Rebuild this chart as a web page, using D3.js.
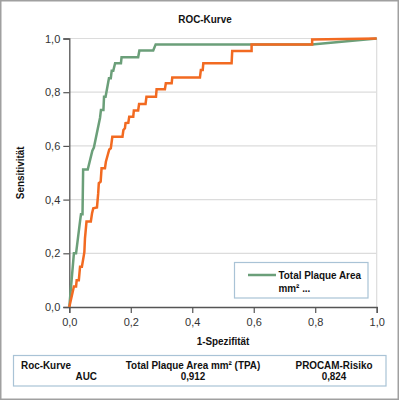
<!DOCTYPE html>
<html>
<head>
<meta charset="utf-8">
<script src="https://cdn.jsdelivr.net/npm/d3@7"></script>
<style>
  html, body { margin: 0; padding: 0; background: #fff; }
  svg { display: block; }
  .lab { font-family: "Liberation Sans", Arial, sans-serif; font-weight: bold; fill: #111; }
  .tick text { font-family: "Liberation Sans", Arial, sans-serif; font-size: 11px; fill: #333; }
</style>
</head>
<body>
<script>
// ---- data ----
const chartTitle = "ROC-Kurve";
const xLabel = "1-Spezifität";
const yLabel = "Sensitivität";
const tickValues = [0, 0.2, 0.4, 0.6, 0.8, 1.0];
const seriesNames = ["Total Plaque Area mm² (TPA)", "PROCAM-Risiko"];
const aucValues = ["0,912", "0,824"];

// Total Plaque Area (green): [1-Spezifität, Sensitivität]
const tpaFpr = [0, 0.015, 0.022, 0.035, 0.038, 0.043, 0.045, 0.060, 0.075, 0.080, 0.100, 0.103, 0.111, 0.113, 0.118, 0.129, 0.135, 0.138, 0.143, 0.149, 0.168, 0.170, 0.224, 0.228, 0.273, 0.281, 0.789, 1.0];
const tpaTpr = [0, 0.200, 0.200, 0.320, 0.345, 0.345, 0.512, 0.512, 0.582, 0.594, 0.705, 0.734, 0.734, 0.783, 0.783, 0.852, 0.852, 0.880, 0.880, 0.908, 0.908, 0.930, 0.930, 0.955, 0.955, 0.978, 0.978, 1.0];

// PROCAM-Risiko (orange)
const procamFpr = [0, 0.015, 0.022, 0.024, 0.031, 0.035, 0.041, 0.049, 0.051, 0.056, 0.070, 0.074, 0.078, 0.090, 0.094, 0.096, 0.102, 0.105, 0.116, 0.119, 0.125, 0.130, 0.135, 0.140, 0.173, 0.176, 0.181, 0.183, 0.192, 0.195, 0.208, 0.210, 0.224, 0.227, 0.248, 0.251, 0.282, 0.284, 0.311, 0.314, 0.333, 0.335, 0.425, 0.428, 0.434, 0.436, 0.528, 0.530, 0.593, 0.593, 0.790, 0.790, 1.0];
const procamTpr = [0, 0.076, 0.076, 0.100, 0.100, 0.150, 0.150, 0.204, 0.256, 0.318, 0.318, 0.349, 0.368, 0.371, 0.423, 0.461, 0.467, 0.517, 0.517, 0.541, 0.566, 0.587, 0.591, 0.634, 0.634, 0.659, 0.666, 0.685, 0.686, 0.709, 0.709, 0.732, 0.732, 0.756, 0.756, 0.783, 0.783, 0.811, 0.811, 0.833, 0.833, 0.855, 0.855, 0.883, 0.883, 0.908, 0.908, 0.953, 0.953, 0.978, 0.978, 0.996, 1.0];

const colors = ["#6b9f79", "#f26a21"];

// ---- drawing ----
const W = 399, H = 400;
const SX = 0.9; // horizontal condensing of the bold label font
const FS = 11;
const svg = d3.select("body").append("svg").attr("width", W).attr("height", H);

svg.append("rect").attr("x", 0.75).attr("y", 0.75).attr("width", W - 1.5).attr("height", H - 1.5)
  .attr("fill", "#fff").attr("stroke", "#a0a0a0").attr("stroke-width", 1.5);

const x = d3.scaleLinear().domain([0, 1]).range([69.3, 376.7]);
const y = d3.scaleLinear().domain([0, 1]).range([307, 38.5]);
const fmt = d => d3.format(".1f")(d).replace(".", ",");

function label(g, tx, ty, anchor, str, size, extra) {
  return g.append("text").attr("class", "lab")
    .attr("transform", `translate(${tx},${ty})${extra || ""} scale(${SX},1)`)
    .attr("text-anchor", anchor).attr("font-size", size).text(str);
}

// gridlines
svg.append("g").selectAll("line").data(tickValues.filter(d => d > 0)).join("line")
  .attr("x1", x(0)).attr("x2", x(1)).attr("y1", d => y(d)).attr("y2", d => y(d))
  .attr("stroke", "#dcdcdc").attr("stroke-width", 1.2);
// right frame
svg.append("line").attr("x1", x(1)).attr("x2", x(1)).attr("y1", y(1)).attr("y2", y(0))
  .attr("stroke", "#dcdcdc").attr("stroke-width", 1.2);

// axes
const yAxis = svg.append("g").attr("transform", `translate(${x(0)},0)`)
  .call(d3.axisLeft(y).tickValues(tickValues).tickFormat(fmt).tickSize(6).tickPadding(3));
const xAxis = svg.append("g").attr("transform", `translate(0,${y(0)})`)
  .call(d3.axisBottom(x).tickValues(tickValues).tickFormat(fmt).tickSize(6).tickPadding(5));
[yAxis, xAxis].forEach(a => {
  a.select(".domain").attr("stroke", "#555").attr("stroke-width", 1.3);
  a.selectAll(".tick line").attr("stroke", "#555").attr("stroke-width", 1.2);
});

// curves
const line = d3.line().x(d => x(d[0])).y(d => y(d[1]));
const tpa = tpaFpr.map((f, i) => [f, tpaTpr[i]]);
const procam = procamFpr.map((f, i) => [f, procamTpr[i]]);
svg.append("path").datum(tpa).attr("d", line).attr("fill", "none")
  .attr("stroke", colors[0]).attr("stroke-width", 2.5);
svg.append("path").datum(procam).attr("d", line).attr("fill", "none")
  .attr("stroke", colors[1]).attr("stroke-width", 2.5);

// titles
label(svg, 205, 23, "middle", chartTitle, FS);
label(svg, (x(0) + x(1)) / 2, 344.5, "middle", xLabel, FS);
label(svg, 24, (y(0) + y(1)) / 2, "middle", yLabel, FS, " rotate(-90)");

// legend
const lg = svg.append("g");
lg.append("rect").attr("x", 234.5).attr("y", 262.5).attr("width", 133.5).attr("height", 35.5)
  .attr("fill", "#fff").attr("stroke", "#a9c3d6").attr("stroke-width", 1.2);
lg.append("line").attr("x1", 248).attr("x2", 276).attr("y1", 275).attr("y2", 275)
  .attr("stroke", colors[0]).attr("stroke-width", 2.5);
label(lg, 278.5, 278.5, "start", "Total Plaque Area", FS);
label(lg, 278.5, 291.5, "start", "mm² ...", FS);

// AUC table
const tb = svg.append("g");
tb.append("rect").attr("x", 13.5).attr("y", 355.5).attr("width", 372.5).attr("height", 30.5)
  .attr("fill", "#fff").attr("stroke", "#a9c3d6").attr("stroke-width", 1.2);
label(tb, 21, 368.5, "start", "Roc-Kurve", FS);
label(tb, 97, 379.5, "end", "AUC", FS);
label(tb, 193, 368.5, "middle", seriesNames[0], FS);
label(tb, 193, 379.5, "middle", aucValues[0], FS);
label(tb, 334, 368.5, "middle", seriesNames[1], FS);
label(tb, 334, 379.5, "middle", aucValues[1], FS);
</script>
</body>
</html>
